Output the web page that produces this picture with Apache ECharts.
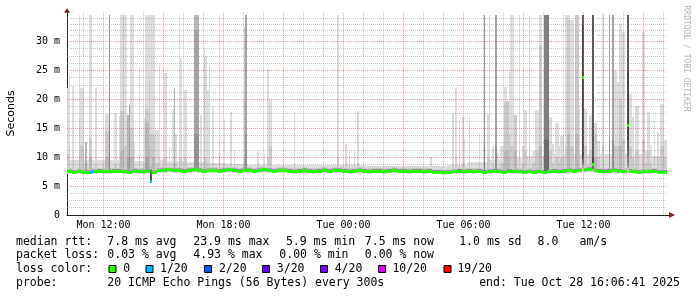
<!DOCTYPE html>
<html><head><meta charset="utf-8">
<script src="https://cdn.jsdelivr.net/npm/echarts@6/dist/echarts.min.js"></script>
<style>html,body{margin:0;padding:0;background:#fff}#c{width:697px;height:297px}</style>
</head><body><div id="c"></div>
<script>
// ---------------- data ----------------
const graphStartHour = 10.175;          // hours since Mon 00:00 at left edge
const graphHours = 30;
const stepsPerHour = 12;                // 5-minute steps
const stepCount = 360;
const yMax = 35;
const yClip = 34.67;                    // rrd upper limit (values above are clipped)

const xTickHours = [12, 18, 24, 30, 36];
const xTickLabels = ['Mon 12:00', 'Mon 18:00', 'Tue 00:00', 'Tue 06:00', 'Tue 12:00'];
const majorGridHours = [12, 15, 18, 21, 24, 27, 30, 33, 36, 39];
const minorGridHours = [11, 13, 14, 16, 17, 19, 20, 22, 23, 25, 26, 28, 29, 31, 32, 34, 35, 37, 38, 40];
const yMajorGrid = [5, 10, 15, 20, 25, 30];
const yMinorGrid = [1.25, 2.5, 3.75, 6.25, 7.5, 8.75, 11.25, 12.5, 13.75, 16.25, 17.5, 18.75,
                    21.25, 22.5, 23.75, 26.25, 27.5, 28.75, 31, 32, 33, 34];

// median rtt (ms), one value per 15 minutes
const medianRtt = [
 7.6,7.5,7.6,7.5,7.5,7.6,7.7,7.6,7.6,7.7,
 7.7,7.6,7.5,7.7,7.6,7.6,7.7,7.5,7.8,7.8,
 7.9,7.8,7.8,7.7,7.8,7.9,7.8,7.7,7.8,7.8,
 7.7,7.8,7.9,7.8,7.7,7.8,7.8,7.7,7.8,7.9,
 7.8,7.7,7.8,7.8,7.7,7.6,7.7,7.8,7.7,7.6,
 7.7,7.8,7.7,7.8,7.8,7.7,7.6,7.7,7.8,7.7,
 7.6,7.7,7.7,7.6,7.7,7.8,7.7,7.7,7.6,7.7,
 7.7,7.6,7.7,7.5,7.5,7.4,7.5,7.6,7.7,7.6,
 7.7,7.6,7.7,7.5,7.6,7.7,7.6,7.5,7.7,7.6,
 7.6,7.5,7.6,7.5,7.6,7.5,7.6,7.7,7.6,7.7,
 7.8,7.7,7.8,7.9,8.0,7.8,7.7,7.6,7.7,7.8,
 7.7,7.6,7.7,7.6,7.5,7.6,7.6,7.7,7.5,7.5
];
// typical spread of the 20 sorted pings around the median (ms)
const basePingOffsets = [-0.45,-0.38,-0.34,-0.3,-0.26,-0.22,-0.18,-0.14,-0.1,-0.05,
                          0.03,0.06,0.09,0.12,0.15,0.2,0.25,0.32,0.45,0.7];
// typical highest ping per hour of the graph (light smoke floor), ms
const hourlyMaxPing = [9.5,9.5,9.6,9.4,9.5,9.3,9.2,9.0,8.8,8.7,8.7,8.6,8.6,8.6,8.6,
                       8.4,8.4,8.4,8.4,8.6,9.2,9.5,9.8,10.2,10.5,10.6,10.5,10.6,10.5,10.2];
// smoke spikes: [step, number of steps, highest pings (p20, p19, ...)]
const spikes = [
 [0,1,[22.0,10.5]],[1,1,[24.0,12]],[3,1,[22.4,9.5]],[7,1,[40,16.8,10]],[8,2,[22,12]],
 [11,1,[12.6,12.6,12.6,9]],[13,2,[40,13.3,10]],[17,1,[22,9]],[23,2,[17.4,14.5,10]],
 [25,1,[40,40,40,40,40,14.5]],[28,1,[17.6,9]],[29,1,[17.6,9]],[31,1,[17.1,9]],
 [32,2,[40,18,11]],[34,2,[40,12]],[36,1,[17.3,17.3,17.3,10]],[37,1,[19,19,19,19,10]],
 [38,2,[40,15,10]],[40,1,[12.5,9]],[43,1,[25.7,10]],[46,1,[16.8,9]],[47,2,[40,18.4,16,10]],
 [49,1,[40,23,12]],[51,2,[40,14,10]],[53,2,[14.7,9]],[55,1,[26,10]],[58,2,[24.5,10]],
 [61,1,[11.7,9]],[63,1,[18.4,9]],[64,1,[22,22,22,10]],[65,1,[14,9]],[67,1,[40,10]],
 [68,1,[27.2,10]],[70,2,[21.7,10]],[76,3,[40,40,40,32,14]],[80,1,[17.3,9]],
 [82,1,[29,27.3,10]],[83,1,[27.5,10]],[84,1,[21.6,9]],[85,1,[26,10]],[87,1,[18.9,9]],
 [91,1,[40,13,10]],[94,1,[16.7,9]],[98,1,[17.9,9]],[100,1,[11.3,9]],
 [106,1,[32.3,32.3,20,10]],[107,1,[40,40,40,40,14]],[114,1,[11,9]],[118,1,[10.7,9]],
 [120,1,[25.3,10]],[121,2,[19.9,12]],[136,1,[17.9,9]],[162,1,[40,10]],[167,1,[12.3,9]],
 [169,1,[11.1,9]],[172,1,[11,9]],[174,1,[18,9]],[218,1,[10.1]],
 [231,1,[17.6,9]],[233,1,[22,10]],[235,1,[16.5,9]],[237,1,[17,9]],[238,1,[13.1,9]],
 [241,1,[17,9]],[247,1,[14,9]],[250,1,[40,40,40,40,40,12]],[252,1,[17.4,10]],
 [253,1,[40,11]],[255,1,[12,9]],[257,1,[40,40,40,40,12]],[258,1,[10.8]],[260,2,[12,9]],
 [262,2,[22.1,19.5,11]],[264,1,[19.8,19.8,11]],[265,1,[24.8,14,10]],[266,2,[40,12]],
 [268,2,[17.3,17.3,11]],[269,1,[17.3,14.4,10]],[271,1,[40,11]],[273,1,[12,9]],
 [274,2,[18.2,11]],[277,1,[40,12]],[279,2,[11,9]],[281,2,[18.2,11]],[283,2,[40,29.4,12]],
 [286,3,[40,40,40,40,40,40,13]],[289,2,[17,11]],[291,1,[12.3,9]],[293,2,[16,10]],
 [295,1,[12,9]],[296,2,[13.6,10]],[299,2,[40,12]],[300,2,[40,33.7,14]],[302,2,[33.7,12]],
 [305,2,[40,40,14]],[307,1,[18.4,11]],[310,2,[18.4,12]],[313,2,[17.3,11]],
 [316,2,[16,14,10]],[318,2,[12.8,10]],[321,1,[40,12]],[325,1,[40,40,40,40,13]],
 [327,1,[40,40,40,40,13]],[328,2,[24.9,12]],[330,1,[23,12]],[331,2,[33,20,12]],
 [333,2,[31.7,13]],[337,2,[20.9,12]],[339,1,[17,10]],[341,2,[18.9,11]],[345,2,[31.7,13]],
 [347,1,[11,9]],[348,2,[17.9,11]],[350,1,[12.2,9]],[352,1,[16.3,10]],[354,1,[14.3,10]],
 [356,2,[19.3,12]],[358,2,[13,10]]
];
// steps whose 20 pings are given in full
const pingOverrides = [
 [50,  [5.7,5.75,5.8,5.8,5.85,5.85,5.9,5.9,5.9,5.9,5.95,6.5,7.0,7.5,7.8,7.8,8.0,8.5,14,40]],
 [309, [7.8,8.0,8.2,8.4,8.6,8.8,9.0,9.5,10,23.5,24.3,33,40,40,40,40,40,40,40,40]],
 [315, [7.5,7.6,7.7,7.8,7.9,8.0,8.2,8.4,8.6,8.7,8.9,10,40,40,40,40,40,40,40,40]],
 [336, [7.6,7.8,8.0,8.2,8.5,9,10,11,13,15.3,15.7,25,40,40,40,40,40,40,40,40]]
];
const medianOverrides = [[50, 5.9], [309, 23.9], [315, 8.8], [336, 15.5]];
const lossSteps = [[14, 1], [15, 1], [50, 1]];   // [step, loss colour index]

const lossLabels = ['0', '1/20', '2/20', '3/20', '4/20', '10/20', '19/20'];
const lossColors = ['#26ff00', '#00b8ff', '#0059ff', '#5e00ff', '#7e00ff', '#dd00ff', '#ff0000'];

const legendRow1 = [['median rtt:',16],['7.8 ms avg',107.3],['23.9 ms max',193.3],['5.9 ms min',285.9],
                    ['7.5 ms now',364.8],['1.0 ms sd',459.2],['8.0',537.6],['am/s',579.5]];
const legendRow2 = [['packet loss:',16],['0.03 % avg',107.3],['4.93 % max',193.3],['0.00 % min',279.3],['0.00 % now',364.8]];
const legendRow3Title = ['loss color:',16];
const lossBoxX = [108.5,145.5,204,262,320,378,443.5];
const lossLabelX = [123.3,160,218.9,276.8,334.7,392.4,457.4];
const legendRow4 = [['probe:',16],['20 ICMP Echo Pings (56 Bytes) every 300s',107.3],['end: Tue Oct 28 16:06:41 2025',479.2]];
const rowY = [241.7, 255.4, 269.4, 283.4];
const watermark = 'RRDTOOL / TOBI OETIKER';

// ---------------- build steps ----------------
const steps = [];
for (let i = 0; i < stepCount; i++) {
  const med = medianRtt[Math.floor(i / 3)];
  const pings = basePingOffsets.map(o => med + o);
  pings[19] = Math.max(pings[19], hourlyMaxPing[Math.floor(i / stepsPerHour)]);
  steps.push({ i, med, loss: 0, pings });
}
spikes.forEach(([s, n, highs]) => {
  for (let k = 0; k < n; k++) {
    const st = steps[s + k]; if (!st) continue;
    highs.forEach((v, j) => { const idx = 19 - j; st.pings[idx] = Math.max(st.pings[idx], v); });
  }
});
pingOverrides.forEach(([s, p]) => { steps[s].pings = p.slice(); });
medianOverrides.forEach(([s, m]) => { steps[s].med = m; });
lossSteps.forEach(([s, l]) => { steps[s].loss = l; });
steps.forEach(st => st.pings.sort((a, b) => a - b));

const smokeData = steps.map(st => [graphStartHour + st.i / stepsPerHour, st.med, st.loss].concat(st.pings));
const gridData = [];
minorGridHours.forEach(h => gridData.push([h, 0, 0]));
majorGridHours.forEach(h => gridData.push([h, 0, 1]));
yMinorGrid.forEach(v => gridData.push([graphStartHour, v, 2]));
yMajorGrid.forEach(v => gridData.push([graphStartHour, v, 3]));

const MONO = 'DejaVu Sans Mono';
const chart = echarts.init(document.getElementById('c'), null, { renderer: 'canvas' });

function stepX(api, t) {
  const x0 = Math.round(api.coord([t, 0])[0]);
  const x1 = Math.round(api.coord([t + 1 / stepsPerHour, 0])[0]);
  return [x0, x1];
}
function yPix(api, t, v) { return Math.round(api.coord([t, Math.min(v, yClip)])[1]); }

const option = {
  animation: false,
  backgroundColor: '#ffffff',
  grid: { left: 67, right: 30, top: 12.8, bottom: 82, containLabel: false },
  xAxis: {
    type: 'value', min: graphStartHour, max: graphStartHour + graphHours,
    axisLine: { show: true, lineStyle: { color: '#1f1f1f', width: 1 } },
    axisTick: { show: false },
    splitLine: { show: false },
    axisLabel: {
      customValues: xTickHours, margin: 5,
      formatter: v => { const k = xTickHours.indexOf(Math.round(v)); return k >= 0 ? xTickLabels[k] : ''; },
      fontFamily: MONO, fontSize: 10, color: '#000'
    }
  },
  yAxis: {
    type: 'value', min: 0, max: yMax, interval: 5,
    axisLine: { show: true, lineStyle: { color: '#1f1f1f', width: 1 } },
    axisTick: { show: false },
    splitLine: { show: false },
    axisLabel: {
      showMaxLabel: false, margin: 7, fontFamily: MONO, fontSize: 10, color: '#000',
      formatter: v => v === 0 ? '0' : (v + ' m')
    }
  },
  series: [
    {
      type: 'custom', name: 'smoke', z: 1, clip: false,
      encode: { x: 0, y: 1 },
      data: smokeData,
      renderItem: (params, api) => {
        const t = api.value(0);
        const [x0, x1] = stepX(api, t);
        const p = []; for (let k = 0; k < 20; k++) p.push(api.value(3 + k));
        const children = [];
        for (let b = 1; b <= 10; b++) {
          const lo = p[b - 1], hi = p[20 - b];
          const ya = yPix(api, t, hi), yb = yPix(api, t, lo);
          if (yb - ya < 1) continue;
          const g = Math.floor(190 / 10 * (10 - b)) + 50;
          children.push({ type: 'rect', shape: { x: x0, y: ya, width: x1 - x0, height: yb - ya },
                          style: { fill: 'rgb(' + g + ',' + g + ',' + g + ')' } });
        }
        return { type: 'group', children };
      }
    },
    {
      type: 'custom', name: 'grid', z: 2, clip: false, silent: true,
      encode: { x: 0, y: 1 },
      data: gridData,
      renderItem: (params, api) => {
        const kind = api.value(2);
        const cs = params.coordSys;
        const major = (kind === 1 || kind === 3);
        const stroke = major ? 'rgba(222,80,80,0.55)' : 'rgba(143,143,143,0.5)';
        if (kind < 2) {
          const x = Math.floor(api.coord([api.value(0), 0])[0]) + 0.5;
          return { type: 'line', shape: { x1: x, y1: cs.y, x2: x, y2: cs.y + cs.height },
                   style: { stroke, lineWidth: 1, lineDash: [1, 1] } };
        }
        const y = Math.floor(api.coord([graphStartHour, api.value(1)])[1]) + 0.5;
        return { type: 'line', shape: { x1: cs.x, y1: y, x2: cs.x + cs.width, y2: y },
                 style: { stroke, lineWidth: 1, lineDash: [1, 1] } };
      }
    },
    {
      type: 'custom', name: 'median', z: 3, clip: false,
      encode: { x: 0, y: 1 },
      data: smokeData,
      renderItem: (params, api) => {
        const t = api.value(0);
        const [x0, x1] = stepX(api, t);
        const y = yPix(api, t, api.value(1));
        return { type: 'rect', shape: { x: x0, y: y - 1, width: x1 - x0, height: 3 },
                 style: { fill: lossColors[api.value(2)] } };
      }
    }
  ],
  graphic: []
};
chart.setOption(option);

// decorations: arrows, titles, legend
const g = [];
const pEnd = chart.convertToPixel({ gridIndex: 0 }, [graphStartHour + graphHours, 0]);
const pTop = chart.convertToPixel({ gridIndex: 0 }, [graphStartHour, yMax]);
const ARROW = '#801f1f';
g.push({ type: 'line', shape: { x1: pEnd[0], y1: Math.floor(pEnd[1]) + 0.5, x2: pEnd[0] + 4, y2: Math.floor(pEnd[1]) + 0.5 }, style: { stroke: '#1f1f1f', lineWidth: 1 } });
g.push({ type: 'polygon', shape: { points: [[pEnd[0] + 2, pEnd[1] - 3], [pEnd[0] + 8, pEnd[1]], [pEnd[0] + 2, pEnd[1] + 3]] }, style: { fill: ARROW } });
g.push({ type: 'polygon', shape: { points: [[pTop[0] - 3, pTop[1]], [pTop[0], pTop[1] - 4.5], [pTop[0] + 3, pTop[1]]] }, style: { fill: ARROW } });
g.push({ type: 'text', x: 11, y: 113.5, rotation: Math.PI / 2,
         style: { text: 'Seconds', fontFamily: 'DejaVu Sans', fontSize: 11, fill: '#000', align: 'center', verticalAlign: 'middle' } });
g.push({ type: 'text', x: 686, y: 58.5, rotation: -Math.PI / 2,
         style: { text: watermark, fontFamily: MONO, fontSize: 8, fill: '#b4b4b4', align: 'center', verticalAlign: 'middle' } });
function addText(txt, x, y) {
  g.push({ type: 'text', x, y, style: { text: txt, fontFamily: MONO, fontSize: 11.5, fill: '#000', align: 'left', verticalAlign: 'middle' } });
}
legendRow1.forEach(([t, x]) => addText(t, x, rowY[0]));
legendRow2.forEach(([t, x]) => addText(t, x, rowY[1]));
addText(legendRow3Title[0], legendRow3Title[1], rowY[2]);
lossLabels.forEach((lab, k) => {
  g.push({ type: 'rect', shape: { x: lossBoxX[k] + 0.5, y: Math.round(rowY[2]) - 3.5, width: 7, height: 7 },
           style: { fill: lossColors[k], stroke: '#000', lineWidth: 1 } });
  addText(lab, lossLabelX[k], rowY[2]);
});
legendRow4.forEach(([t, x]) => addText(t, x, rowY[3]));
chart.setOption({ graphic: g });
</script>
</body></html>
